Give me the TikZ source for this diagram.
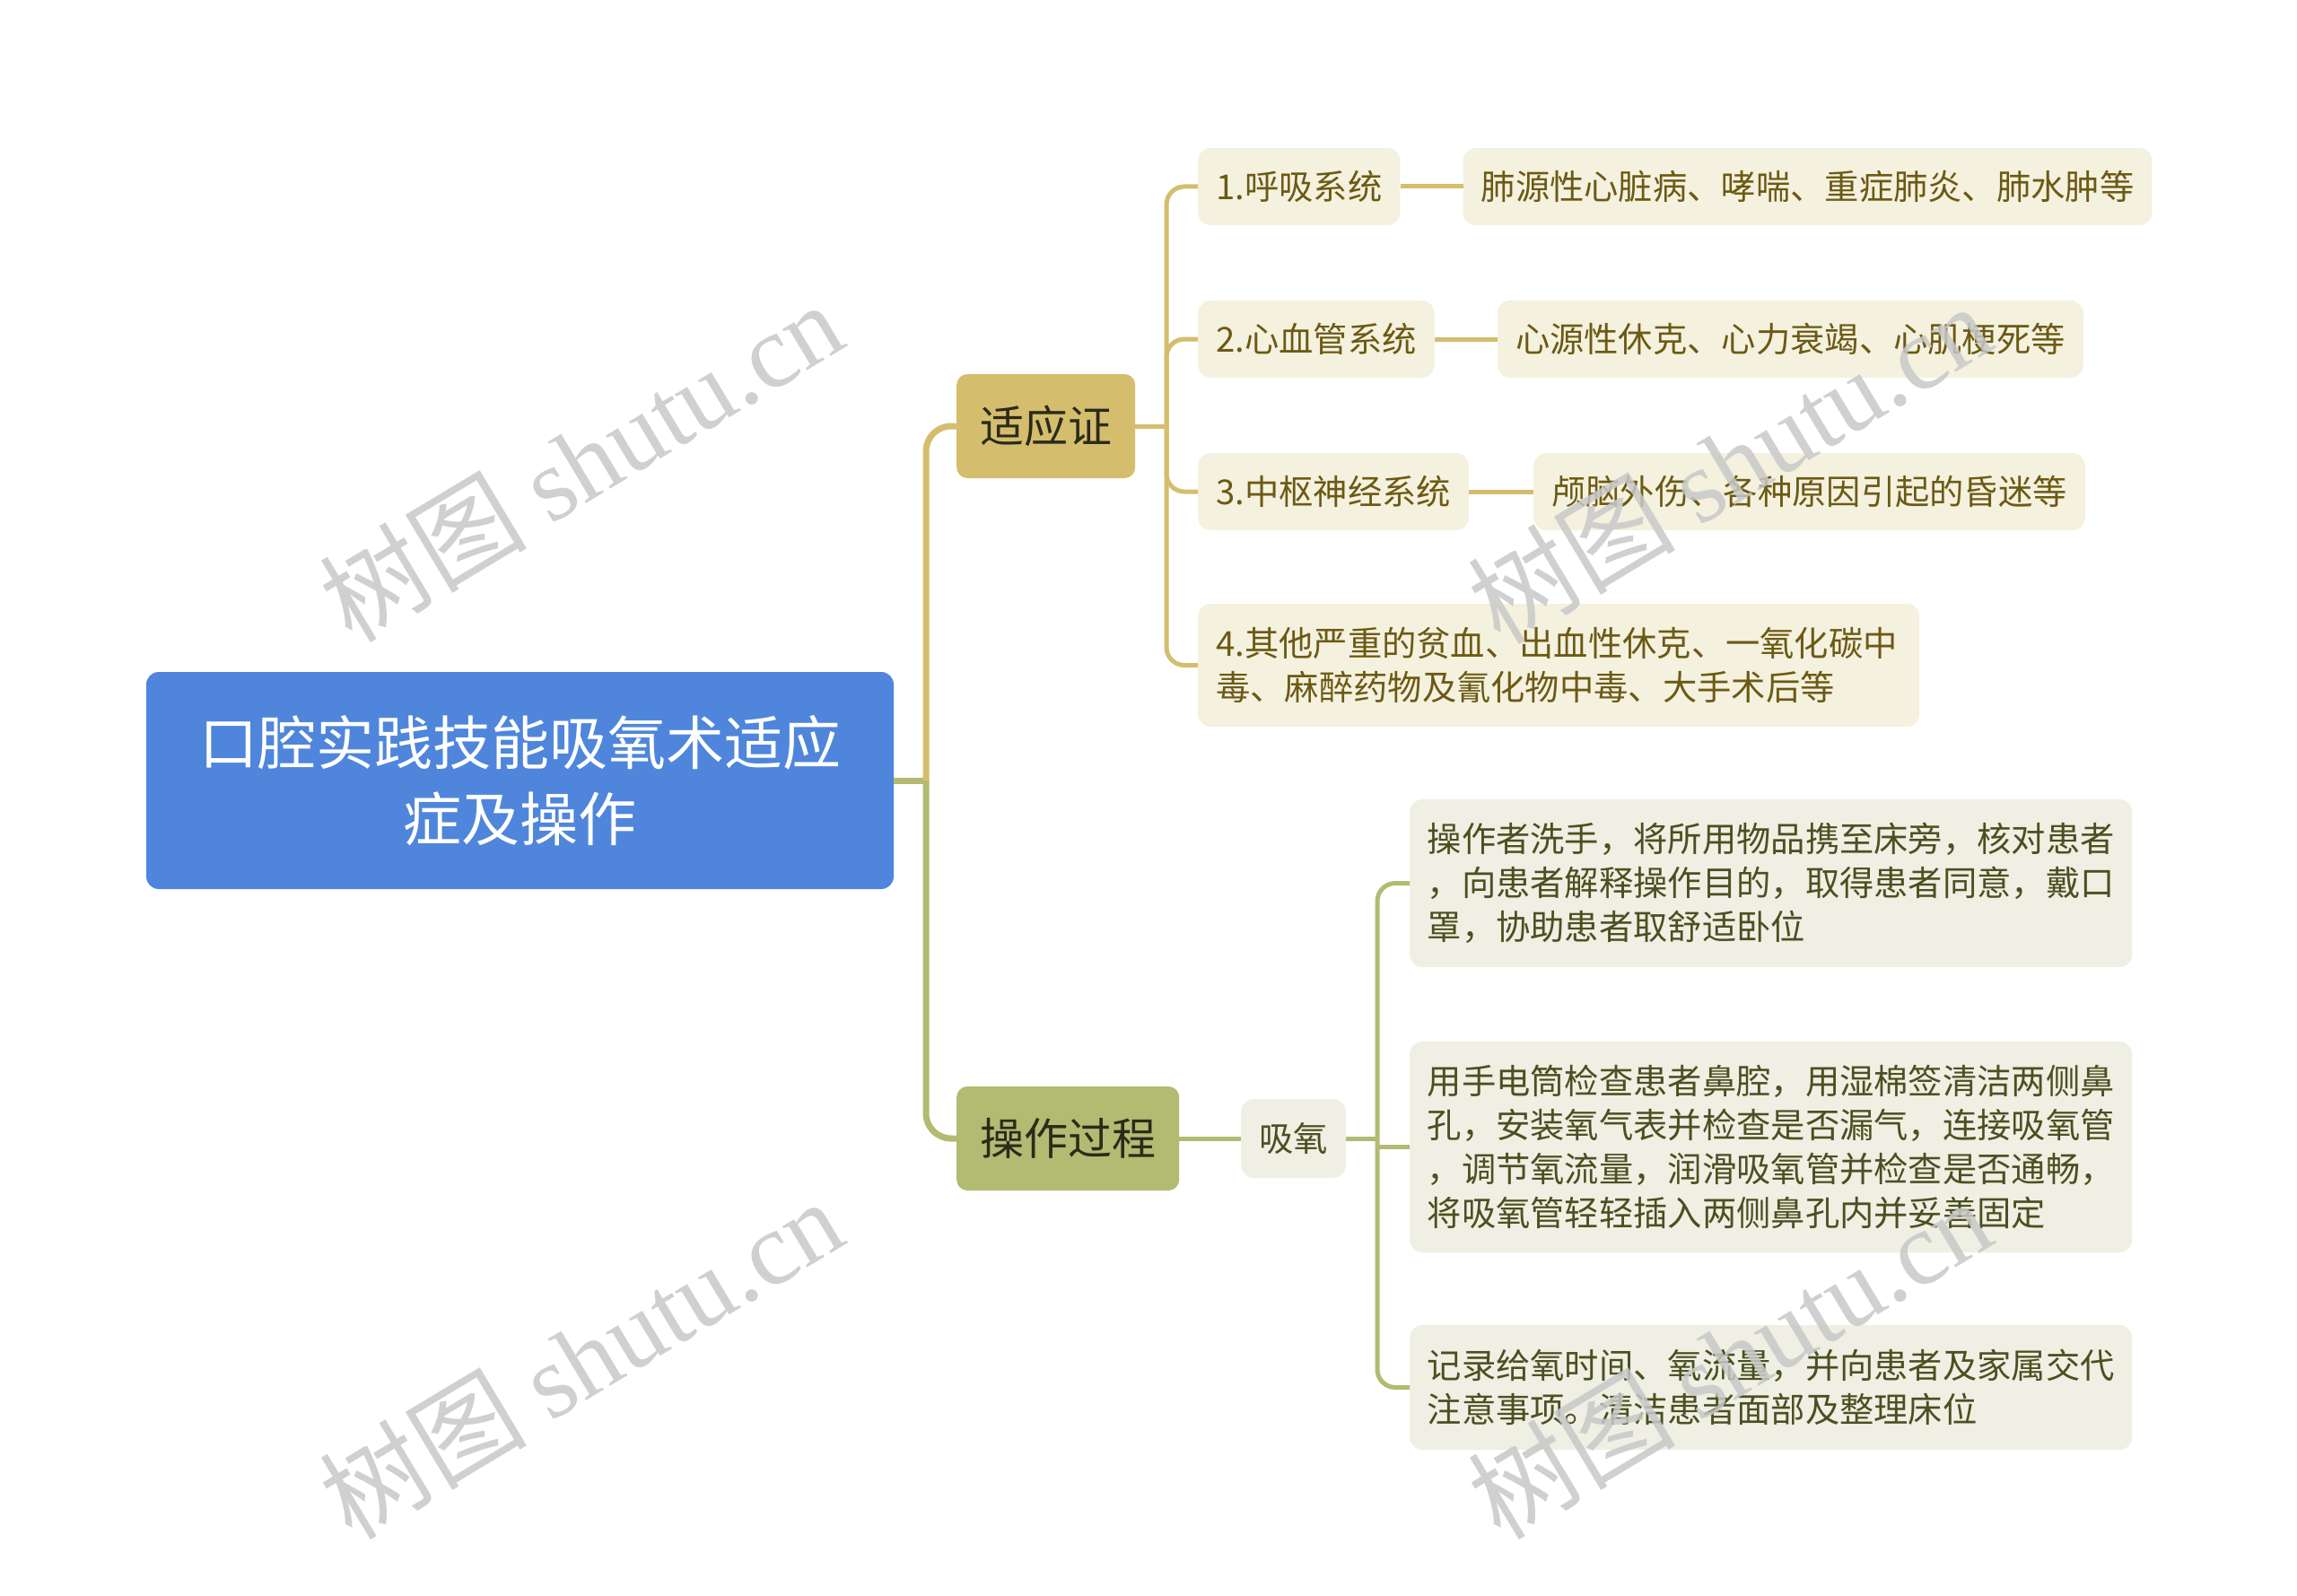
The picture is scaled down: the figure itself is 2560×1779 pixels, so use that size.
\documentclass[tikz,border=0pt]{standalone}
\usepackage{fontspec}
\setmainfont{Noto Sans CJK SC}
\newfontfamily\wmlatin{Liberation Serif}
\usetikzlibrary{positioning,calc}
\definecolor{rootblue}{HTML}{4F86DB}
\definecolor{goldfill}{HTML}{D4BE6E}
\definecolor{goldline}{HTML}{D4BE6E}
\definecolor{goldlight}{HTML}{F5F1DF}
\definecolor{goldtext}{HTML}{6B5A14}
\definecolor{olivefill}{HTML}{B3BA72}
\definecolor{oliveline}{HTML}{B3BA72}
\definecolor{olivelight}{HTML}{EFEFE3}
\definecolor{olivetext}{HTML}{4A5020}
\definecolor{darktext}{HTML}{2B2B1A}
\definecolor{wmgray}{HTML}{C8C8C8}
\tikzset{
  rootbox/.style={rectangle, rounded corners=14pt, fill=rootblue, text=white,
    font=\fontsize{65}{85}\selectfont, align=center, minimum width=833pt,
    minimum height=242pt, inner sep=0pt},
  mainbox/.style={rectangle, rounded corners=12pt, text=darktext,
    font=\fontsize{49}{60}\selectfont, minimum height=116pt, inner xsep=26pt,
    inner ysep=0pt, anchor=west},
  goldsub/.style={rectangle, rounded corners=14pt, fill=goldlight, text=goldtext,
    font=\fontsize{38.3}{49}\selectfont, minimum height=86pt, inner xsep=20pt,
    inner ysep=0pt, anchor=west, align=left},
  olivesub/.style={rectangle, rounded corners=14pt, fill=olivelight, text=olivetext,
    font=\fontsize{38.3}{49}\selectfont, minimum height=88pt, inner xsep=20pt,
    inner ysep=0pt, anchor=west, align=left},
  trunkgold/.style={draw=goldline, line width=7pt, rounded corners=28pt},
  trunkolive/.style={draw=oliveline, line width=7pt, rounded corners=28pt},
  subgold/.style={draw=goldline, line width=5pt, rounded corners=20pt},
  subolive/.style={draw=oliveline, line width=5pt, rounded corners=20pt},
  wm/.style={rotate=31, text=wmgray, text opacity=0.85, font=\fontsize{116}{116}\selectfont, inner sep=0pt}
}
\begin{document}
\begin{tikzpicture}[x=1pt,y=-1pt]
\useasboundingbox[fill=white] (0,0) rectangle (2560,1779);

% nodes
\node[rootbox] (root) at (579.5,870) {口腔实践技能吸氧术适应\\症及操作};
\node[mainbox, fill=goldfill] (syz) at (1066,475) {适应证};
\node[mainbox, fill=olivefill] (czgc) at (1066,1269) {操作过程};

\node[goldsub] (c1) at (1335,208) {1.呼吸系统};
\node[goldsub, right=70pt of c1] (d1) {肺源性心脏病、哮喘、重症肺炎、肺水肿等};
\node[goldsub] (c2) at (1335,378) {2.心血管系统};
\node[goldsub, right=70pt of c2] (d2) {心源性休克、心力衰竭、心肌梗死等};
\node[goldsub] (c3) at (1335,548) {3.中枢神经系统};
\node[goldsub, right=72pt of c3] (d3) {颅脑外伤、各种原因引起的昏迷等};
\node[goldsub, text width=764pt, minimum height=137pt] (c4) at (1335,741.5)
  {4.其他严重的贫血、出血性休克、一氧化碳中\\毒、麻醉药物及氰化物中毒、大手术后等};

\node[olivesub] (xy) at (1383,1269) {吸氧};
\node[olivesub, text width=766pt, inner xsep=19.5pt, minimum height=187pt] (g1) at (1571,984.5)
  {操作者洗手，将所用物品携至床旁，核对患者\\，向患者解释操作目的，取得患者同意，戴口\\罩，协助患者取舒适卧位};
\node[olivesub, text width=766pt, inner xsep=19.5pt, minimum height=235pt] (g2) at (1571,1278.5)
  {用手电筒检查患者鼻腔，用湿棉签清洁两侧鼻\\孔，安装氧气表并检查是否漏气，连接吸氧管\\，调节氧流量，润滑吸氧管并检查是否通畅，\\将吸氧管轻轻插入两侧鼻孔内并妥善固定};
\node[olivesub, text width=766pt, inner xsep=19.5pt, minimum height=139pt] (g3) at (1571,1546.5)
  {记录给氧时间、氧流量，并向患者及家属交代\\注意事项。清洁患者面部及整理床位};

% connectors
\coordinate (t0) at (1032,870);
\draw[trunkolive] (root.east) -- (t0);
\draw[trunkgold] (t0) |- (syz.west);
\draw[trunkolive] (t0) |- (czgc.west);

\coordinate (j1) at (1300,475);
\draw[subgold] (syz.east) -- (j1);
\draw[subgold] (j1) |- (c1.west);
\draw[subgold] (j1) |- (c2.west);
\draw[subgold] (j1) |- (c3.west);
\draw[subgold] (j1) |- (c4.west);
\draw[subgold] (c1.east) -- (d1.west);
\draw[subgold] (c2.east) -- (d2.west);
\draw[subgold] (c3.east) -- (d3.west);

\coordinate (j2) at (1535,1269);
\draw[subolive] (czgc.east) -- (xy.west);
\draw[subolive] (xy.east) -- (j2);
\draw[subolive] (j2) |- (g1.west);
\draw[subolive] (j2) |- (g3.west);
\draw[subolive] (g2.west -| j2) -- (g2.west);

% watermarks
\node[wm] (w1) at (647,514) {树图 {\wmlatin shutu.cn}};
\node[wm] (w2) at (1927,516) {树图 {\wmlatin shutu.cn}};
\node[wm] (w3) at (647,1514) {树图 {\wmlatin shutu.cn}};
\node[wm] (w4) at (1927,1514) {树图 {\wmlatin shutu.cn}};
\end{tikzpicture}
\end{document}
